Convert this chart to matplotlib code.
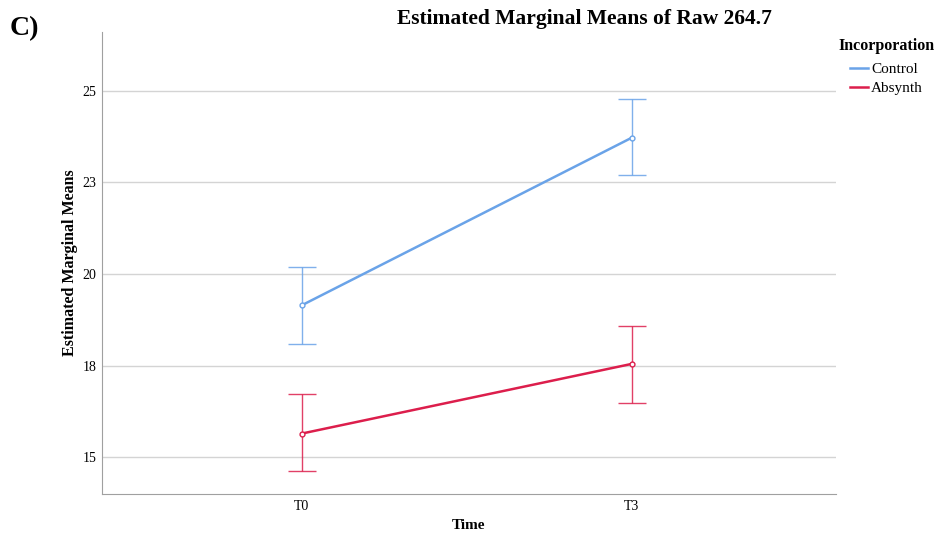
import matplotlib.pyplot as plt

plt.rcParams['font.family'] = ['Liberation Serif', 'DejaVu Serif']

times = ['T0', 'T3']
groups = ['Control', 'Absynth']
colors = ['#6aa3e8', '#dc1e4c']
means = [[19.15, 23.72], [15.65, 17.55]]
upper = [[20.19, 24.78], [16.72, 18.59]]
lower = [[18.09, 22.69], [14.62, 16.47]]
yticks = [15, 17.5, 20, 22.5, 25]
yticklabels = ['15', '18', '20', '23', '25']

fig = plt.figure(figsize=(9.39, 5.35), dpi=100)
ax = fig.add_axes([0.1086, 0.0766, 0.7814, 0.8634])

x = list(range(len(times)))
for g, name in enumerate(groups):
    m = means[g]
    err = [[m[i] - lower[g][i] for i in x], [upper[g][i] - m[i] for i in x]]
    ax.errorbar(x, m, yerr=err, fmt='none', ecolor=colors[g], elinewidth=1,
                capsize=10, capthick=1, alpha=0.85, zorder=3)
    ax.plot(x, m, color=colors[g], lw=1.8, label=name, zorder=4)
    ax.plot(x, m, ls='none', marker='o', ms=3.5, mfc='white',
            mec=colors[g], mew=1, zorder=5)

ax.set_xlim(-0.606, 1.618)
ax.set_ylim(14.0, 26.6)
ax.set_xticks(x)
ax.set_xticklabels(times)
ax.set_yticks(yticks)
ax.set_yticklabels(yticklabels)
ax.tick_params(length=0, labelsize=10, pad=4)
ax.grid(axis='y', color='#d4d4d4', lw=1)
ax.set_axisbelow(True)
for s in ['top', 'right']:
    ax.spines[s].set_visible(False)
for s in ['left', 'bottom']:
    ax.spines[s].set_color('#a0a0a0')

ax.set_xlabel('Time', fontsize=11, fontweight='bold', va='center')
ax.xaxis.set_label_coords(0.5, -0.069)
ax.set_ylabel('Estimated Marginal Means', fontsize=11.5, fontweight='bold', labelpad=3)

fig.text(0.622, 0.965, 'Estimated Marginal Means of Raw 264.7', ha='center', va='center',
         fontsize=15.5, fontweight='bold')
fig.text(0.01, 0.947, 'C)', ha='left', va='center', fontsize=20, fontweight='bold')

leg = ax.legend(loc='upper left', bbox_to_anchor=(0.995, 1.0), frameon=False,
                title='Incorporation', fontsize=11, handlelength=1.2,
                handletextpad=0.2, labelspacing=0.35, borderaxespad=0)
leg.get_title().set_fontweight('bold')
leg.get_title().set_fontsize(11.5)
leg._legend_box.sep = 6

fig.savefig('out.png', dpi=100)
